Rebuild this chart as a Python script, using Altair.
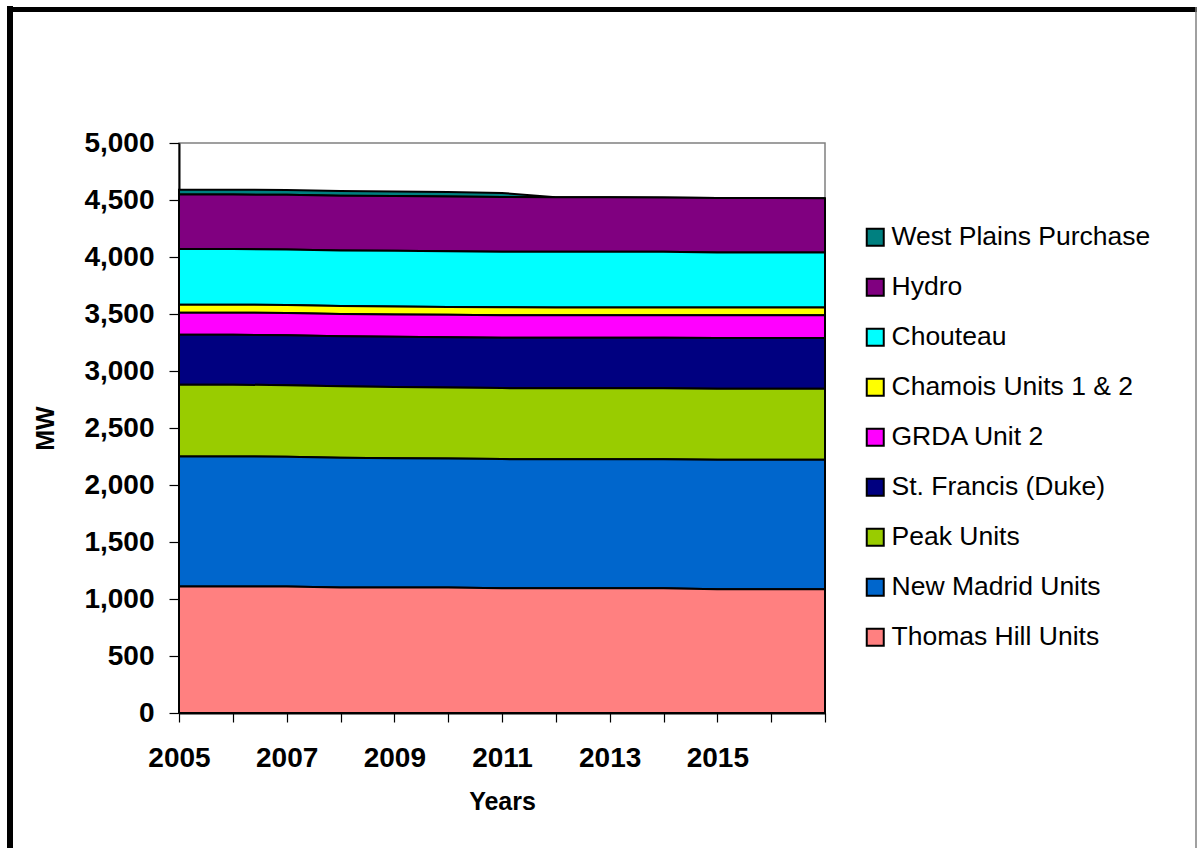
import altair as alt
import pandas as pd

# Capacity by resource, MW, 2005-2017
YEARS = list(range(2005, 2018))

THOMAS_HILL = [1110, 1110, 1110, 1100, 1100, 1100, 1095, 1095, 1095, 1095, 1085, 1085, 1085]
NEW_MADRID = [1140, 1140, 1138, 1138, 1135, 1133, 1132, 1131, 1131, 1131, 1137, 1137, 1137]
PEAK_UNITS = [630, 630, 628, 628, 625, 623, 623, 622, 622, 622, 623, 623, 623]
ST_FRANCIS = [438, 438, 438, 438, 440, 440, 442, 443, 443, 443, 445, 445, 445]
GRDA_UNIT2 = [194, 194, 194, 196, 196, 198, 198, 199, 199, 199, 199, 199, 199]
CHAMOIS = [70, 70, 70, 70, 69, 68, 69, 68, 68, 68, 67, 67, 67]
CHOUTEAU = [488, 488, 488, 488, 489, 488, 488, 488, 488, 488, 484, 484, 484]
HYDRO = [478, 478, 479, 480, 480, 480, 480, 479, 478, 477, 478, 477, 476]
WEST_PLAINS = [42, 42, 43, 42, 41, 40, 35, 0, 0, 0, 0, 0, 0]

# Legend order (top to bottom); stacking runs the other way
RESOURCES = [
    "West Plains Purchase",
    "Hydro",
    "Chouteau",
    "Chamois Units 1 &  2",
    "GRDA Unit 2",
    "St. Francis (Duke)",
    "Peak Units",
    "New Madrid Units",
    "Thomas Hill Units",
]
SERIES = [WEST_PLAINS, HYDRO, CHOUTEAU, CHAMOIS, GRDA_UNIT2,
          ST_FRANCIS, PEAK_UNITS, NEW_MADRID, THOMAS_HILL]
COLORS = ["#008080", "#800080", "#00FFFF", "#FFFF00", "#FF00FF",
          "#000080", "#99CC00", "#0066CC", "#FF8080"]

rows = []
for i, (name, vals) in enumerate(zip(RESOURCES, SERIES)):
    for yr, v in zip(YEARS, vals):
        rows.append({"Year": yr, "Resource": name, "MW": v,
                     "stack": len(RESOURCES) - 1 - i})
df = pd.DataFrame(rows)

FONT = "Liberation Sans"
W, H = 646, 570
LEFT, TOP = 179, 143

area = alt.Chart(df).mark_area(
    stroke="black", strokeWidth=2, opacity=1, strokeJoin="miter"
).encode(
    x=alt.X(
        "Year:Q",
        scale=alt.Scale(domain=[2005, 2017], nice=False, zero=False),
        axis=alt.Axis(
            values=YEARS,
            labelExpr="datum.value <= 2015 && datum.value % 2 == 1 ? datum.value : ''",
            labelFlush=False,
            labelOverlap=False,
            labelPadding=22,
            tickSize=9,
            title="Years",
            titleX=W / 2,
            titleY=88,
            titleAlign="center",
            titleBaseline="middle",
        ),
    ),
    y=alt.Y(
        "MW:Q",
        stack="zero",
        scale=alt.Scale(domain=[0, 5000], nice=False),
        axis=alt.Axis(
            values=list(range(0, 5001, 500)),
            format=",.0f",
            labelPadding=15,
            tickSize=10,
            title="MW",
            titleX=45 - LEFT,
            titleY=H / 2,
            titleAngle=270,
            titleAlign="center",
            titleBaseline="middle",
        ),
    ),
    color=alt.Color(
        "Resource:N",
        scale=alt.Scale(domain=RESOURCES, range=COLORS),
        legend=alt.Legend(
            title=None,
            orient="none",
            legendX=683,
            legendY=81,
            direction="vertical",
            symbolType="square",
            symbolSize=289,
            symbolStrokeColor="black",
            symbolStrokeWidth=2,
            symbolOpacity=1,
            labelFont=FONT,
            labelFontSize=26.5,
            labelColor="black",
            labelOffset=3,
            labelLimit=400,
            rowPadding=23,
            padding=0,
        ),
    ),
    order=alt.Order("stack:Q", sort="ascending"),
)

# Outer frame of the chart
one = pd.DataFrame({"k": [0]})
frame_left = alt.Chart(one).mark_rule(color="black", strokeWidth=6).encode(
    x=alt.value(10 - LEFT), y=alt.value(6 - TOP), y2=alt.value(860 - TOP)
)
frame_top = alt.Chart(one).mark_rule(color="black", strokeWidth=5).encode(
    x=alt.value(7 - LEFT), x2=alt.value(1210 - LEFT), y=alt.value(9.5 - TOP)
)
frame_right = alt.Chart(one).mark_rule(color="#808080", strokeWidth=1.5).encode(
    x=alt.value(1196 - LEFT), y=alt.value(7 - TOP), y2=alt.value(860 - TOP)
)

chart = alt.layer(area, frame_left, frame_top, frame_right).properties(
    width=W,
    height=H,
    autosize=alt.AutoSizeParams(type="none"),
    padding={"left": LEFT, "top": TOP, "right": 1197 - LEFT - W, "bottom": 848 - TOP - H},
    background="white",
).configure_view(
    stroke="#808080", strokeWidth=1.5
).configure_axis(
    grid=False,
    domainColor="black",
    domainWidth=2,
    tickColor="black",
    tickWidth=1.2,
    labelFont=FONT,
    labelFontSize=28,
    labelFontWeight="bold",
    labelColor="black",
    titleFont=FONT,
    titleFontSize=25,
    titleFontWeight="bold",
    titleColor="black",
)

chart.save("out.html", embed_options={"renderer": "svg", "actions": False})
